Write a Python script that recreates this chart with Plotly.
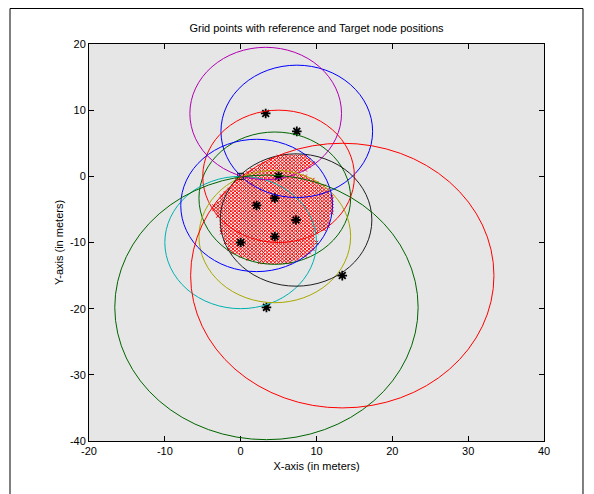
import numpy as np
import plotly.graph_objects as go

# Reference nodes (circle centres), radii and colours (MATLAB colour order)
ref_x = [7.4, 4.5, 5.0, 0.0, 3.3, 4.5, 7.3, 2.1, 3.4, 13.4]
ref_y = [6.8, -3.3, 0.0, -10.0, 9.5, -9.1, -6.6, -4.4, -19.8, -15.0]
radii = [10, 10, 10, 10, 10, 10, 10, 10, 20, 20]
circle_colors = ["#0000ff", "#006400", "#ff0000", "#00b0b0", "#b000b0",
                 "#a8a800", "#202020", "#0000ff", "#006400", "#ff0000"]

# Target node
target_x = [0.0]
target_y = [0.0]

# Grid definition
grid_step = 0.5
grid_xmin, grid_xmax = -20, 40
grid_ymin, grid_ymax = -40, 20
min_circles = 7

x_ticks = [-20, -10, 0, 10, 20, 30, 40]
x_tick_labels = ["-20", "-10", "0", "10", "20", "30", "40"]
y_ticks = [-40, -30, -20, -10, 0, 10, 20]
y_tick_labels = ["-40", "-30", "-20", "-10", "0", "10", "20"]

# Grid points lying inside enough circles
gx = np.arange(grid_xmin, grid_xmax + 1e-9, grid_step)
gy = np.arange(grid_ymin, grid_ymax + 1e-9, grid_step)
GX, GY = np.meshgrid(gx, gy)
count = np.zeros_like(GX)
for cx, cy, r in zip(ref_x, ref_y, radii):
    count += ((GX - cx) ** 2 + (GY - cy) ** 2 <= r ** 2)
sel = count >= min_circles
grid_x = GX[sel]
grid_y = GY[sel]

FONT = "Liberation Sans, Arial, sans-serif"

fig = go.Figure()
fig.add_trace(go.Scatter(
    x=grid_x, y=grid_y, mode="markers",
    marker=dict(symbol="x-thin", size=3.5, line=dict(color="#ff0000", width=1), color="#ff0000"),
    showlegend=False, hoverinfo="skip"))
fig.add_trace(go.Scatter(
    x=ref_x, y=ref_y, mode="markers",
    marker=dict(symbol="asterisk-open", size=8, line=dict(color="black", width=1.8), color="black"),
    showlegend=False))
fig.add_trace(go.Scatter(
    x=target_x, y=target_y, mode="markers",
    marker=dict(symbol="square-open", size=6, line=dict(color="black", width=1), color="black"),
    showlegend=False))

shapes = []
for cx, cy, r, c in zip(ref_x, ref_y, radii, circle_colors):
    shapes.append(dict(type="circle", xref="x", yref="y",
                       x0=cx - r, x1=cx + r, y0=cy - r, y1=cy + r,
                       line=dict(color=c, width=1), layer="above"))
# outer frame of the figure
shapes.append(dict(type="rect", xref="paper", yref="paper",
                   x0=-0.1736, x1=1.0857, y0=-0.2, y1=1.0894,
                   line=dict(color="black", width=1), layer="above"))

fig.update_layout(
    width=594, height=494,
    margin=dict(l=81, r=58, t=36, b=61),
    paper_bgcolor="white", plot_bgcolor="#e6e6e6",
    font=dict(family=FONT, size=11, color="black"),
    title=dict(text="Grid points with reference and Target node positions",
               x=0.5, xref="paper", y=1 - 20 / 494, yref="container",
               yanchor="middle", font=dict(size=11, family=FONT, color="black")),
    shapes=shapes,
)
fig.update_xaxes(range=[-20, 40], tickvals=x_ticks, ticktext=x_tick_labels,
                 showgrid=False, zeroline=False,
                 showline=True, linecolor="black", linewidth=1, mirror="ticks",
                 ticks="inside", ticklen=5, tickcolor="black",
                 title=dict(text="X-axis (in meters)", standoff=6, font=dict(size=11)))
fig.update_yaxes(range=[-40, 20], tickvals=y_ticks, ticktext=y_tick_labels,
                 showgrid=False, zeroline=False,
                 showline=True, linecolor="black", linewidth=1, mirror="ticks",
                 ticks="inside", ticklen=5, tickcolor="black",
                 title=dict(text="Y-axis (in meters)", standoff=4, font=dict(size=11)))

fig.write_html("out.html")
